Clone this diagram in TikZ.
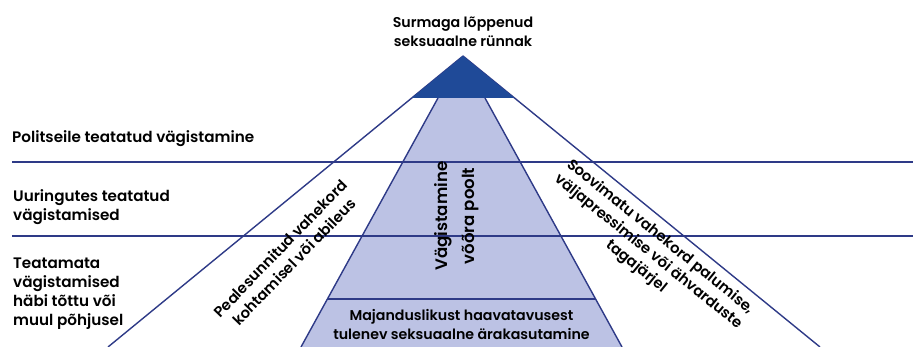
\documentclass[tikz,border=0pt]{standalone}
\usepackage{fontspec}
\setmainfont{Poppins}[BoldFont={Poppins SemiBold}]
\definecolor{lineblue}{HTML}{2E3A87}
\definecolor{darkblue}{HTML}{1F4A98}
\definecolor{lightblue}{HTML}{BCC2E4}
\begin{document}
\begin{tikzpicture}[x=1pt,y=-1pt,
  lbl/.style={font=\fontsize{15.2}{19}\selectfont\bfseries, inner sep=0pt, text=black},
  mid/.style={font=\fontsize{14.2}{19}\selectfont\bfseries, inner sep=0pt, text=black},
  rot/.style={font=\fontsize{14.8}{19}\selectfont\bfseries, inner sep=0pt, text=black},
  big/.style={font=\fontsize{16.6}{27}\selectfont\bfseries, inner sep=0pt, text=black},
  ln/.style={draw=lineblue, line width=1.4pt}]
\useasboundingbox (0,0) rectangle (913,347);
% coordinates
\coordinate (apex) at (463,56);
\coordinate (bl) at (108,347);
\coordinate (br) at (820,347);
\coordinate (dl) at (411.8,98);
\coordinate (dr) at (514.5,98);
\coordinate (tl) at (438,98);
\coordinate (tr) at (485,98);
\coordinate (tbl) at (301,347);
\coordinate (tbr) at (622,347);
\coordinate (ml) at (327.5,299);
\coordinate (mr) at (595.5,299);
\coordinate (h1l) at (12,162);
\coordinate (h1r) at (913,162);
\coordinate (h2l) at (12,236);
\coordinate (h2r) at (913,236);
% light trapezoid
\fill[lightblue] (tl) -- (tr) -- (tbr) -- (tbl) -- cycle;
\draw[ln] (tl) -- (tbl);
\draw[ln] (tr) -- (tbr);
\draw[ln] (ml) -- (mr);
% horizontal lines
\draw[ln] (h1l) -- (h1r);
\draw[ln] (h2l) -- (h2r);
% big triangle sides
\draw[ln] (apex) -- (bl);
\draw[ln] (apex) -- (br);
% dark apex triangle
\fill[darkblue] (apex) -- (dr) -- (dl) -- cycle;
% texts
\node[mid, align=center] (top) at (463,32) {Surmaga lõppenud\\seksuaalne rünnak};
\node[lbl, anchor=west] (pol) at (12,139) {Politseile teatatud vägistamine};
\node[lbl, anchor=west, align=left] (uur) at (13,207) {Uuringutes teatatud\\vägistamised};
\node[lbl, anchor=west, align=left] (tea) at (13,293.5) {Teatamata\\vägistamised\\häbi tõttu või\\muul põhjusel};
\node[rot, align=center, rotate=46] (pea) at (287,255) {Pealesunnitud vahekord\\kohtamisel või abileus};
\node[rot, align=center, rotate=-39] (soo) at (648,252) {Soovimatu vahekord palumise,\\väljapressimise või ähvarduste\\tagajärjel};
\node[big, align=center, rotate=90] (vag) at (457,216) {Vägistamine\\võõra poolt};
\node[mid, align=center] (maj) at (461.5,324) {Majanduslikust haavatavusest\\tulenev seksuaalne ärakasutamine};
\end{tikzpicture}
\end{document}
